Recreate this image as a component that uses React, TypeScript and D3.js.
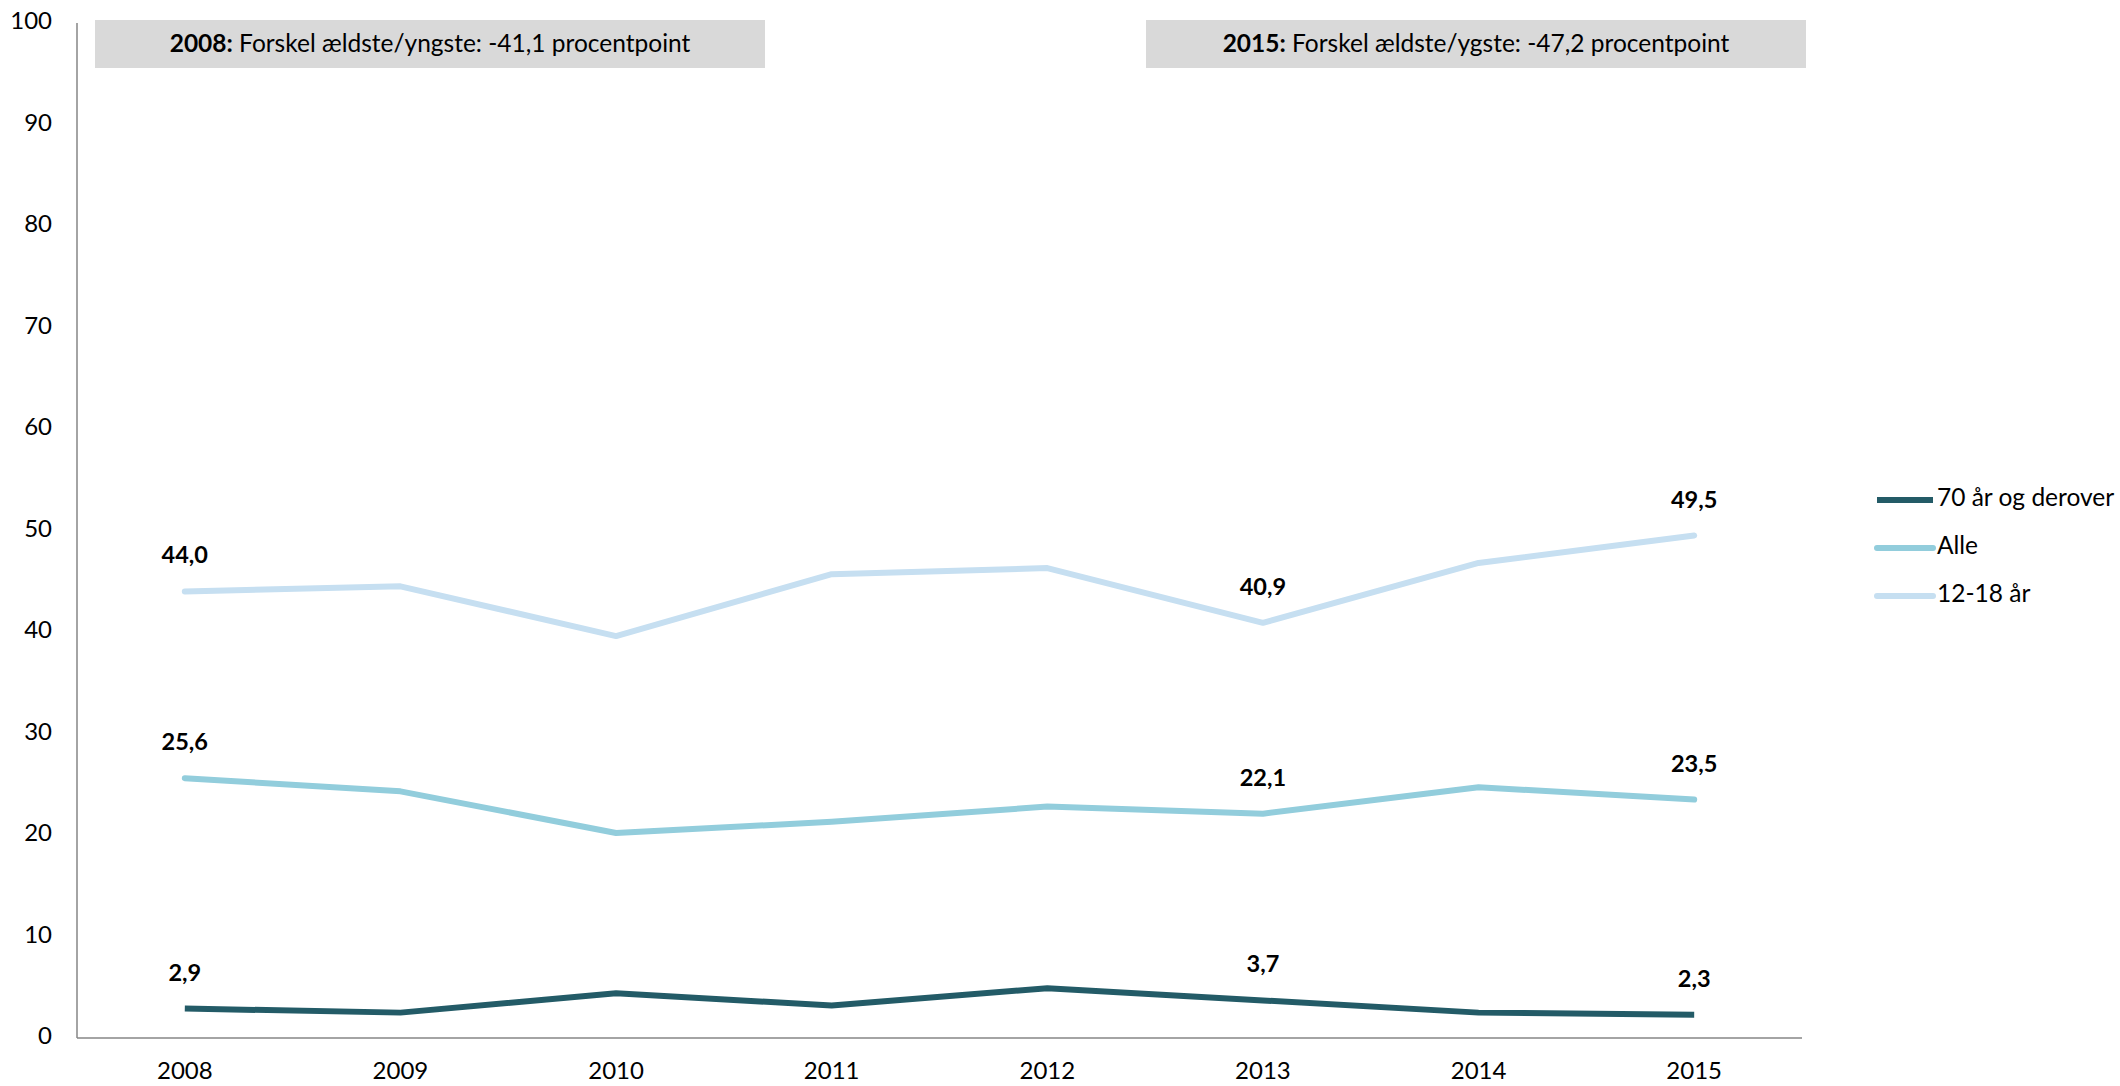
import React from "react";
import * as d3 from "d3";

const years = ["2008", "2009", "2010", "2011", "2012", "2013", "2014", "2015"];
const seriesNames = ["70 år og derover", "Alle", "12-18 år"];
const seriesColors = ["#235b67", "#92cddc", "#c6dff1"];
const old70 = [2.9, 2.5, 4.4, 3.2, 4.9, 3.7, 2.5, 2.3];
const alle = [25.6, 24.3, 20.2, 21.3, 22.8, 22.1, 24.7, 23.5];
const young = [44.0, 44.5, 39.6, 45.7, 46.3, 40.9, 46.8, 49.5];
const labeledYears = ["2008", "2013", "2015"];
const yTicks = [0, 10, 20, 30, 40, 50, 60, 70, 80, 90, 100];
const boxTexts = [
  { year: "2008", bold: "2008:", rest: " Forskel ældste/yngste: -41,1 procentpoint" },
  { year: "2015", bold: "2015:", rest: " Forskel ældste/ygste: -47,2 procentpoint" },
];

const W = 2120;
const H = 1086;
const FONT = "Lato, 'Open Sans', sans-serif";

export default function App() {
  const left = 77;
  const right = 1802;
  const top = 23;
  const bottom = 1038;
  const x = d3.scaleBand<string>().domain(years).range([left, right]);
  const xc = (y: string) => (x(y) as number) + x.bandwidth() / 2;
  const y = d3.scaleLinear().domain([0, 100]).range([bottom, top]);
  const allSeries = [old70, alle, young];
  const line = d3
    .line<number>()
    .x((_, i) => xc(years[i]))
    .y((d) => y(d));
  const fmt = (v: number) => v.toFixed(1).replace(".", ",");

  const boxes = [
    { x0: 95, x1: 765 },
    { x0: 1146, x1: 1806 },
  ];

  return (
    <svg
      width={W}
      height={H}
      style={{ position: "absolute", left: 0, top: 0, background: "#fff" }}
      fontFamily={FONT}
    >
      {/* boxes */}
      {boxTexts.map((b, i) => (
        <g key={b.year}>
          <rect x={boxes[i].x0} y={20} width={boxes[i].x1 - boxes[i].x0} height={48} fill="#d9d9d9" />
          <text
            x={(boxes[i].x0 + boxes[i].x1) / 2}
            y={46}
            textAnchor="middle"
            dominantBaseline="middle"
            fontSize={24.5}
            fill="#000"
          >
            <tspan fontWeight="bold">{b.bold}</tspan>
            <tspan>{b.rest}</tspan>
          </text>
        </g>
      ))}
      {/* axes */}
      <line x1={left} x2={left} y1={top} y2={bottom} stroke="#868686" strokeWidth={1.5} />
      <line x1={left} x2={right} y1={bottom} y2={bottom} stroke="#868686" strokeWidth={1.5} />
      {yTicks.map((t) => (
        <text key={t} x={52} y={y(t)} textAnchor="end" dominantBaseline="middle" fontSize={24} fill="#000">
          {t}
        </text>
      ))}
      {years.map((yr) => (
        <text key={yr} x={xc(yr)} y={1073} textAnchor="middle" dominantBaseline="middle" fontSize={24} fill="#000">
          {yr}
        </text>
      ))}
      {/* lines */}
      {allSeries.map((s, i) => (
        <path
          key={seriesNames[i]}
          d={line(s) as string}
          fill="none"
          stroke={seriesColors[i]}
          strokeWidth={6}
          strokeLinejoin="round"
          strokeLinecap={i === 0 ? "butt" : "round"}
        />
      ))}
      {/* data labels */}
      {allSeries.map((s, i) =>
        labeledYears.map((yr) => {
          const idx = years.indexOf(yr);
          return (
            <text
              key={seriesNames[i] + yr}
              x={xc(yr)}
              y={y(s[idx]) - 34}
              textAnchor="middle"
              dominantBaseline="middle"
              fontSize={23.5}
              fontWeight="bold"
              fill="#000"
            >
              {fmt(s[idx])}
            </text>
          );
        })
      )}
      {/* legend */}
      {seriesNames.map((n, i) => (
        <g key={n} transform={`translate(1877, ${500 + i * 48})`}>
          <line x1={0} x2={56} y1={0} y2={0} stroke={seriesColors[i]} strokeWidth={6} strokeLinecap={i === 0 ? "butt" : "round"} />
          <text x={60} y={0} dominantBaseline="middle" fontSize={24.5} fill="#000">
            {n}
          </text>
        </g>
      ))}
    </svg>
  );
}
